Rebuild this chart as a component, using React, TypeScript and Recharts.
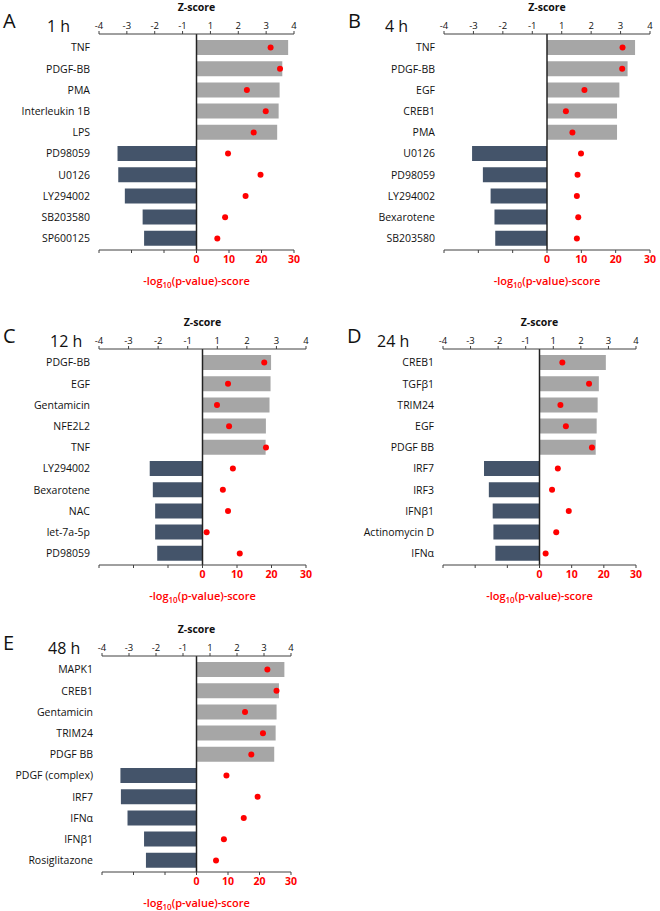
import React from "react";
import {
  Bar,
  Cell,
  ComposedChart,
  ReferenceLine,
  Scatter,
  XAxis,
  YAxis,
} from "recharts";

// Upstream regulators per time point: z-score (bars) and -log10(p) (red dots).
const A_NAMES = ["TNF", "PDGF-BB", "PMA", "Interleukin 1B", "LPS", "PD98059", "U0126", "LY294002", "SB203580", "SP600125"];
const A_Z = [3.76, 3.52, 3.41, 3.37, 3.31, -3.24, -3.21, -2.94, -2.21, -2.15];
const A_P = [22.8, 25.7, 15.5, 21.3, 17.6, 9.7, 19.7, 15.1, 8.8, 6.4];

const B_NAMES = ["TNF", "PDGF-BB", "EGF", "CREB1", "PMA", "U0126", "PD98059", "LY294002", "Bexarotene", "SB203580"];
const B_Z = [3.42, 3.13, 2.81, 2.72, 2.72, -2.91, -2.49, -2.19, -2.04, -2.01];
const B_P = [22.0, 21.9, 10.9, 5.5, 7.4, 9.9, 8.9, 8.7, 9.1, 8.7];

const C_NAMES = ["PDGF-BB", "EGF", "Gentamicin", "NFE2L2", "TNF", "LY294002", "Bexarotene", "NAC", "let-7a-5p", "PD98059"];
const C_Z = [2.65, 2.63, 2.59, 2.45, 2.44, -2.04, -1.92, -1.83, -1.83, -1.75];
const C_P = [17.9, 7.4, 4.2, 7.7, 18.4, 8.8, 5.9, 7.4, 1.2, 10.8];

const D_NAMES = ["CREB1", "TGFβ1", "TRIM24", "EGF", "PDGF BB", "IRF7", "IRF3", "IFNβ1", "Actinomycin D", "IFNα"];
const D_Z = [2.75, 2.46, 2.41, 2.37, 2.33, -2.3, -2.1, -1.94, -1.91, -1.83];
const D_P = [7.1, 15.4, 6.5, 8.2, 16.3, 5.7, 3.9, 9.1, 5.2, 1.9];

const E_NAMES = ["MAPK1", "CREB1", "Gentamicin", "TRIM24", "PDGF BB", "PDGF (complex)", "IRF7", "IFNα", "IFNβ1", "Rosiglitazone"];
const E_Z = [3.72, 3.49, 3.39, 3.35, 3.29, -3.22, -3.2, -2.92, -2.22, -2.14];
const E_P = [22.5, 25.4, 15.4, 21.1, 17.4, 9.5, 19.4, 15.0, 8.7, 6.2];

// top axis labels are spread evenly (no 0), like the original Excel figure
const Z_LABELS = ["-4", "-3", "-2", "-1", "1", "2", "3", "4"];
const Z_LABEL_TICKS = [0, 1, 2, 3, 4, 5, 6, 7];
const P_TICKS = [-30, -20, -10, 0, 10, 20, 30];

const FONT = "'Open Sans', sans-serif";
const RED = "#ff0000";
const POS_FILL = "#a6a6a6";
const NEG_FILL = "#44546a";
const AXIS = "#404040";

const TOP_H = 40;
const PLOT_H = 216;
const BOTTOM_H = 45;
const Y_W = 95;

type PanelProps = {
  letter: string;
  time: string;
  names: string[];
  z: number[];
  p: number[];
  left: number;
  right: number;
  top: number;
  letterX: number;
  timeX: number;
};

function ZTitle(props: any) {
  const vb = props.viewBox || {};
  return (
    <text
      x={vb.x + vb.width / 2}
      y={vb.y + vb.height - 23}
      textAnchor="middle"
      fontSize={10.5}
      fontWeight="bold"
      fill="#111"
      fontFamily={FONT}
    >
      Z-score
    </text>
  );
}

function PTitle(props: any) {
  const vb = props.viewBox || {};
  return (
    <text
      x={vb.x + vb.width / 2}
      y={vb.y + 35}
      textAnchor="middle"
      fontSize={11}
      fontWeight={600}
      fill={RED}
      fontFamily={FONT}
    >
      -log
      <tspan fontSize={8} dy={3}>
        10
      </tspan>
      <tspan dy={-3}>(p-value)-score</tspan>
    </text>
  );
}

// plain text tick so long names never wrap
function NameTick(props: any) {
  const { x, y, payload } = props;
  return (
    <text x={x} y={y} dy={3.8} textAnchor="end" fontSize={10.5} fill="#111" fontFamily={FONT}>
      {payload.value}
    </text>
  );
}

function Panel({ letter, time, names, z, p, left, right, top, letterX, timeX }: PanelProps) {
  const data = names.map((name, i) => ({ name, z: z[i], p: p[i] }));
  const plotW = right - left;
  const width = Y_W + plotW + 10;
  const height = TOP_H + PLOT_H + BOTTOM_H;
  return (
    <>
      <div
        style={{
          position: "absolute",
          left: letterX,
          top: top - 23,
          fontFamily: FONT,
          fontSize: 20,
          lineHeight: "20px",
          color: "#111",
        }}
      >
        {letter}
      </div>
      <div
        style={{
          position: "absolute",
          left: timeX,
          top: top - 16,
          fontFamily: FONT,
          fontSize: 16,
          lineHeight: "16px",
          color: "#111",
        }}
      >
        {time}
      </div>
      <div style={{ position: "absolute", left: left - Y_W, top: top - TOP_H }}>
        <ComposedChart
          layout="vertical"
          width={width}
          height={height}
          data={data}
          margin={{ top: 0, right: 10, bottom: 0, left: 0 }}
        >
          <YAxis
            type="category"
            dataKey="name"
            width={Y_W}
            axisLine={false}
            tickLine={false}
            tickMargin={3}
            interval={0}
            padding={{ top: 3, bottom: 1 }}
            tick={<NameTick />}
          />
          <XAxis xAxisId="z" type="number" domain={[-4, 4]} allowDataOverflow hide />
          <XAxis
            xAxisId="lbl"
            type="number"
            orientation="top"
            domain={[0, 7]}
            allowDataOverflow
            ticks={Z_LABEL_TICKS}
            interval={0}
            height={TOP_H}
            tickFormatter={(v: number) => Z_LABELS[v] ?? ""}
            stroke={AXIS}
            tickSize={3}
            tickMargin={2}
            tick={{ fontSize: 9.5, fill: "#111", fontFamily: FONT }}
            label={{ content: ZTitle }}
          />
          <XAxis
            xAxisId="p"
            type="number"
            dataKey="p"
            orientation="bottom"
            domain={[-30, 30]}
            allowDataOverflow
            ticks={P_TICKS}
            interval={0}
            height={BOTTOM_H}
            tickFormatter={(v: number) => (v >= 0 ? String(v) : "")}
            stroke={AXIS}
            tickSize={3}
            tickMargin={3}
            tick={{ fontSize: 10.5, fill: RED, fontWeight: "bold", fontFamily: FONT }}
            label={{ content: PTitle }}
          />
          <Bar dataKey="z" xAxisId="z" barSize={15} isAnimationActive={false}>
            {data.map((d) => (
              <Cell key={d.name} fill={d.z >= 0 ? POS_FILL : NEG_FILL} />
            ))}
          </Bar>
          <ReferenceLine x={0} xAxisId="z" stroke="#222" strokeWidth={1.5} />
          <Scatter
            dataKey="p"
            xAxisId="p"
            fill={RED}
            isAnimationActive={false}
            shape={(s: any) => <circle cx={s.cx} cy={s.cy} r={3} fill={RED} />}
          />
        </ComposedChart>
      </div>
    </>
  );
}

export default function App() {
  return (
    <div
      style={{
        position: "absolute",
        left: 0,
        top: 0,
        width: 660,
        height: 911,
        background: "#fff",
        overflow: "hidden",
      }}
    >
      <Panel letter="A" time="1 h" names={A_NAMES} z={A_Z} p={A_P} left={99} right={294} top={34} letterX={3} timeX={47} />
      <Panel letter="B" time="4 h" names={B_NAMES} z={B_Z} p={B_P} left={444} right={650} top={34} letterX={348} timeX={385} />
      <Panel letter="C" time="12 h" names={C_NAMES} z={C_Z} p={C_P} left={99} right={306} top={349} letterX={3} timeX={50} />
      <Panel letter="D" time="24 h" names={D_NAMES} z={D_Z} p={D_P} left={443} right={636} top={349} letterX={347} timeX={377} />
      <Panel letter="E" time="48 h" names={E_NAMES} z={E_Z} p={E_P} left={102} right={291} top={656} letterX={3} timeX={48} />
    </div>
  );
}
